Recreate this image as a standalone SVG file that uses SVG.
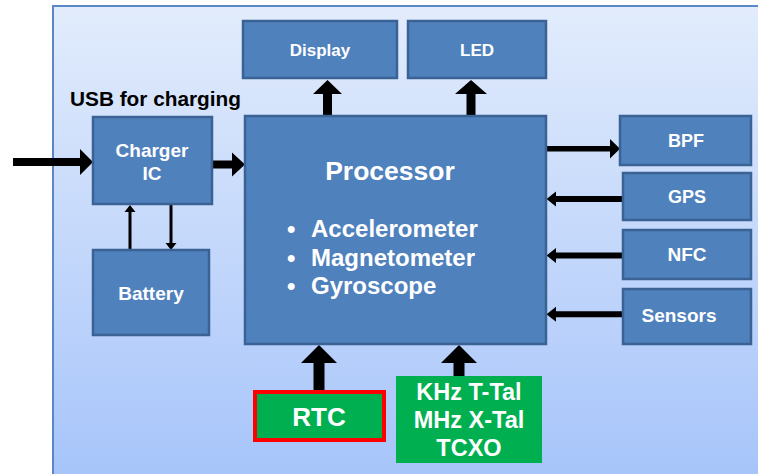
<svg xmlns="http://www.w3.org/2000/svg" width="758" height="474" viewBox="0 0 758 474">
<defs>
<linearGradient id="bg" x1="0" y1="0" x2="0" y2="1">
<stop offset="0" stop-color="#e2ecfc"/>
<stop offset="1" stop-color="#a6c4fa"/>
</linearGradient>
</defs>
<style>
.box{fill:#4f81bd;stroke:#3b6294;stroke-width:2.5}
.lbl{font-family:"Liberation Sans",Arial,sans-serif;font-weight:bold;fill:#ffffff;text-anchor:middle}
.arr{fill:#000000}
</style>
<rect x="0" y="0" width="758" height="474" fill="#ffffff"/>
<rect x="53" y="6" width="712" height="476" fill="url(#bg)" stroke="#5b87c6" stroke-width="2"/>
<text x="70" y="106" font-family="Liberation Sans, Arial, sans-serif" font-weight="bold" font-size="20.8" fill="#000000">USB for charging</text>

<g id="connectors">
<path class="arr" d="M13,158 H80 V149 L93,162 L80,175 V166 H13 Z"/>
<path class="arr" d="M212,160.5 H232 V152.5 L245,164.5 L232,176.5 V168.5 H212 Z"/>
<path class="arr" d="M323,116 V94 H313 L327.5,80 L342,94 H332 V116 Z"/>
<path class="arr" d="M466.5,116 V94 H455 L471,80 L487,94 H475.5 V116 Z"/>
<path class="arr" d="M546,146 H610 V139 L620,148.8 L610,158.5 V151.6 H546 Z"/>
<path class="arr" d="M623,196 H556 V191.5 L546.5,199 L556,206.5 V202 H623 Z"/>
<path class="arr" d="M623,252.5 H556 V248 L546.5,255.5 L556,263 V258.5 H623 Z"/>
<path class="arr" d="M623,311.3 H556 V306.8 L546.5,314.3 L556,321.8 V317.3 H623 Z"/>
<path class="arr" d="M128.5,250 V212 H124.5 L130,205 L135.5,212 H131.5 V250 Z"/>
<path class="arr" d="M169.5,205 V243 H165.5 L171,250 L176.5,243 H172.5 V205 Z"/>
<path class="arr" d="M313.5,390 V363 H301 L319,345 L337,363 H324.5 V390 Z"/>
<path class="arr" d="M453.5,376 V363 H441 L459,345 L477,363 H464.5 V376 Z"/>
</g>

<g id="display"><rect class="box" x="243" y="21" width="154" height="57"/><text class="lbl" x="320" y="56" font-size="17">Display</text></g>
<g id="led"><rect class="box" x="408" y="21" width="138" height="57"/><text class="lbl" x="477" y="56" font-size="17">LED</text></g>
<g id="charger"><rect class="box" x="93" y="117" width="119" height="87"/><text class="lbl" x="152" y="157" font-size="19">Charger</text><text class="lbl" x="152" y="180" font-size="19">IC</text></g>
<g id="battery"><rect class="box" x="93" y="250" width="116" height="85"/><text class="lbl" x="151" y="300" font-size="19">Battery</text></g>
<g id="processor"><rect class="box" x="245" y="116" width="301" height="228"/>
<text class="lbl" x="390" y="180" font-size="26.5">Processor</text>
<g font-family="Liberation Sans, Arial, sans-serif" font-weight="bold" fill="#ffffff" font-size="24">
<text x="287" y="237">•</text><text x="311" y="237">Accelerometer</text>
<text x="287" y="266">•</text><text x="311" y="266">Magnetometer</text>
<text x="287" y="294">•</text><text x="311" y="294">Gyroscope</text>
</g></g>
<g id="bpf"><rect class="box" x="620" y="116" width="131" height="49"/><text class="lbl" x="686" y="147" font-size="18">BPF</text></g>
<g id="gps"><rect class="box" x="623" y="173" width="128" height="47"/><text class="lbl" x="687" y="203" font-size="18">GPS</text></g>
<g id="nfc"><rect class="box" x="623" y="230" width="128" height="49"/><text class="lbl" x="687" y="261" font-size="19">NFC</text></g>
<g id="sensors"><rect class="box" x="623" y="289" width="128" height="55"/><text class="lbl" x="679" y="322" font-size="19">Sensors</text></g>
<g id="rtc"><rect x="255" y="392" width="129" height="48" fill="#00b050" stroke="#ff0000" stroke-width="4"/><text class="lbl" x="319" y="426" font-size="26">RTC</text></g>
<g id="osc"><rect x="396" y="376" width="146" height="87" fill="#00b050"/>
<text class="lbl" x="469" y="400" font-size="23.5">KHz T-Tal</text>
<text class="lbl" x="469" y="428" font-size="23.5">MHz X-Tal</text>
<text class="lbl" x="469" y="456" font-size="23.5">TCXO</text></g>
</svg>
